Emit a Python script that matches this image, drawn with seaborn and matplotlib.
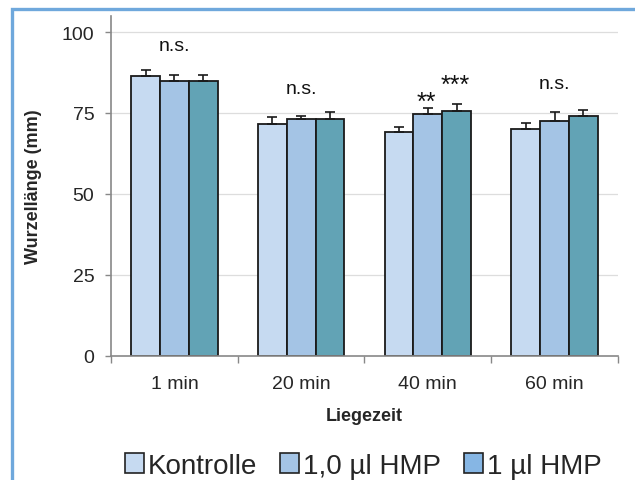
import numpy as np
import pandas as pd
import matplotlib
matplotlib.use("Agg")
import matplotlib.pyplot as plt
from matplotlib.patches import Patch, Rectangle
import seaborn as sns

# Daten
liegezeit = ["1 min", "20 min", "40 min", "60 min"]
gruppen = ["Kontrolle", "1,0 µl HMP", "1 µl HMP"]
kontrolle = [86.3, 71.6, 69.2, 70.1]
hmp_10 = [84.8, 73.0, 74.8, 72.5]
hmp_1 = [84.8, 73.3, 75.7, 74.1]
fehler_kontrolle = [1.9, 2.1, 1.5, 1.7]
fehler_hmp_10 = [1.9, 1.2, 1.6, 2.7]
fehler_hmp_1 = [1.9, 2.0, 2.0, 1.9]
signifikanz = ["n.s.", "n.s.", "**", "***", "n.s."]
sig_pos_x = [0, 1, 2 - 0.01, 2 + 0.22, 3]
sig_pos_y = [95.7, 82.7, 80.5, 85.8, 84.0]

farben = ["#c6daf1", "#a4c4e5", "#62a3b5"]
legenden_farben = ["#c6daf1", "#a4c4e5", "#86b6e4"]

df = pd.DataFrame({
    "Liegezeit": liegezeit * 3,
    "Gruppe": [g for g in gruppen for _ in liegezeit],
    "Wert": kontrolle + hmp_10 + hmp_1,
    "Fehler": fehler_kontrolle + fehler_hmp_10 + fehler_hmp_1,
})

sns.set_style("white")
plt.rcParams["font.family"] = ["Liberation Sans", "DejaVu Sans"]

fig = plt.figure(figsize=(6.35, 4.81), dpi=100)
ax = fig.add_axes([0.175, 0.258, 0.798, 0.707])

sns.barplot(data=df, x="Liegezeit", y="Wert", hue="Gruppe", order=liegezeit,
            hue_order=gruppen, palette=farben, saturation=1, errorbar=None,
            width=0.68, edgecolor="#1a1a1a", linewidth=1.3, legend=False, ax=ax)

# Fehlerbalken (nur nach oben)
for patch, err in zip(ax.patches, df["Fehler"]):
    xm = patch.get_x() + patch.get_width() / 2
    h = patch.get_height()
    ax.errorbar(xm, h, yerr=[[0], [err]], fmt="none", ecolor="#1a1a1a",
                elinewidth=1.2, capsize=3.5, capthick=1.2, zorder=3)

# Signifikanzen
for txt, xs, ys in zip(signifikanz, sig_pos_x, sig_pos_y):
    if "*" in txt:
        ax.text(xs, ys - 2.2, txt, ha="center", va="center", fontsize=18,
                color="#111111")
    else:
        ax.text(xs, ys, txt, ha="center", va="center", fontsize=14,
                color="#111111")

ax.set_ylim(0, 105)
ax.set_xlim(-0.5, 3.5)
ax.set_yticks([0, 25, 50, 75, 100])
ax.yaxis.grid(True, color="#dddddd", linewidth=0.9)
ax.set_axisbelow(True)
ax.tick_params(axis="y", which="major", left=True, length=4, width=1,
               color="#888888", labelsize=14, pad=8)
ax.tick_params(axis="x", which="major", bottom=False, labelsize=14, pad=10)
ax.set_xticks([-0.5, 0.5, 1.5, 2.5, 3.5], minor=True)
ax.tick_params(axis="x", which="minor", bottom=True, length=5, width=1,
               color="#888888")

for s in ["top", "right"]:
    ax.spines[s].set_visible(False)
for s in ["left", "bottom"]:
    ax.spines[s].set_color("#888888")
    ax.spines[s].set_linewidth(1.2)

ax.set_xlabel("Liegezeit", fontsize=13, fontweight="bold", labelpad=11)
ax.set_ylabel("Wurzellänge (mm)", fontsize=13, fontweight="bold", labelpad=14)

handles = [Patch(facecolor=c, edgecolor="#222222", linewidth=1.2, label=g)
           for c, g in zip(legenden_farben, gruppen)]
fig.legend(handles=handles, loc="center", bbox_to_anchor=(0.572, 0.03), ncol=3,
           frameon=False, fontsize=20, handlelength=0.7, handleheight=0.7,
           handletextpad=0.15, columnspacing=0.8)

# hellblauer Rahmen (links und oben sichtbar)
fig.patches.append(Rectangle((0.019, -0.05), 1.1, 1.03, transform=fig.transFigure,
                             fill=False, edgecolor="#6fa8dc", linewidth=2.4))

fig.savefig("out.png", dpi=100)
